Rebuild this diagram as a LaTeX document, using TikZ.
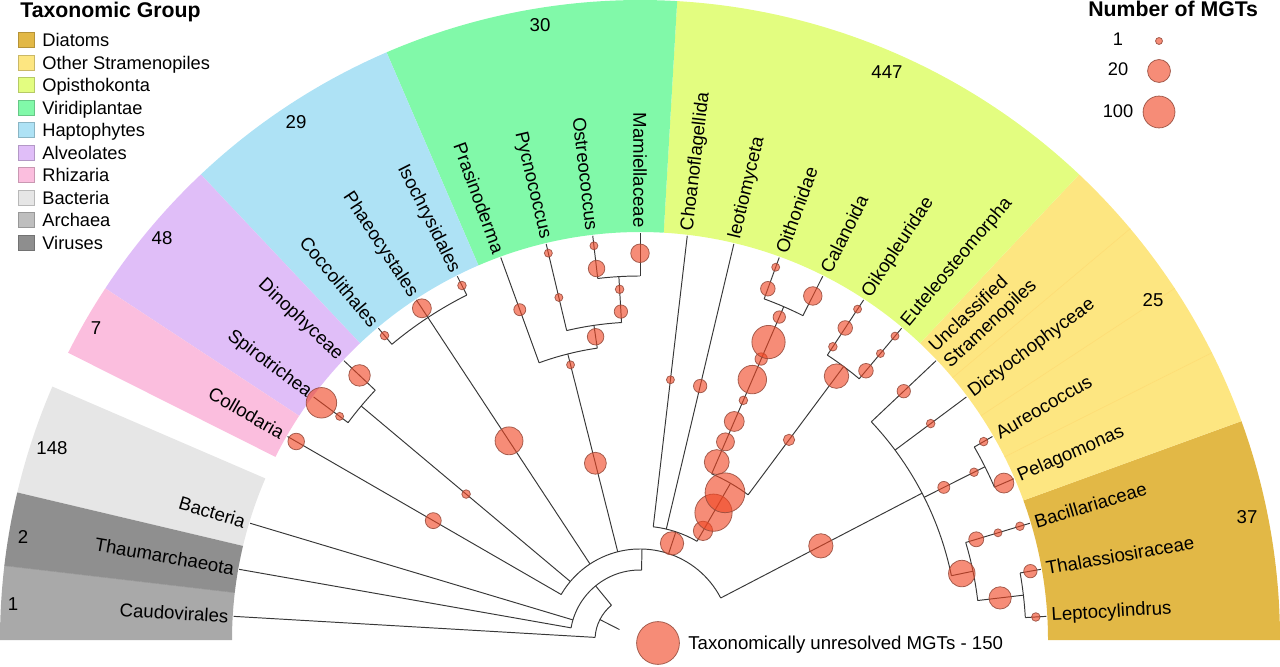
\documentclass[tikz,border=0pt]{standalone}
\usepackage{fontspec}
\setmainfont{Liberation Sans}
\definecolor{cDia}{HTML}{E2B846}
\definecolor{cOth}{HTML}{FDE681}
\definecolor{cOpi}{HTML}{E3FD80}
\definecolor{cVir}{HTML}{81F9A9}
\definecolor{cHap}{HTML}{AEE2F5}
\definecolor{cAlv}{HTML}{E0BEF8}
\definecolor{cRhi}{HTML}{FBBEDE}
\definecolor{cBac}{HTML}{E6E6E6}
\definecolor{cThm}{HTML}{8F8F8F}
\definecolor{cCau}{HTML}{A9A9A9}
\definecolor{cLArc}{HTML}{BEBEBE}
\definecolor{cLVir}{HTML}{8E8E8E}
\definecolor{bubF}{RGB}{240,70,35}
\definecolor{bubE}{RGB}{150,75,60}
\newcommand\lblfont{\fontsize{10.6}{12.4}\selectfont}
\newcommand\legfont{\fontsize{10.4}{12}\selectfont}
\newcommand\ttlfont{\fontsize{12.1}{14}\selectfont\bfseries}
\newcommand\drawband[3]{\fill[#1] (#2:408) arc[start angle=#2, end angle=#3, radius=408] -- (#3:640) arc[start angle=#3, end angle=#2, radius=640] -- cycle;}
\newcommand\rb[3]{\draw[brl] (#1:#2) -- (#1:#3);}
\newcommand\ab[3]{\draw[brl] (#2:#1) arc[start angle=#2, end angle=#3, radius=#1];}
\begin{document}
\begin{tikzpicture}[x=0.02cm, y=0.02cm,
  brl/.style={line width=0.55pt, draw=black!78},
  bub/.style={circle, inner sep=0pt, minimum size=#1*1.1339pt, fill=bubF, fill opacity=0.62, draw=bubE, draw opacity=0.85, line width=0.45pt},
  lblR/.style={anchor=west, inner sep=0pt, rotate=#1, font=\lblfont},
  lblL/.style={anchor=east, inner sep=0pt, rotate=#1-180, font=\lblfont},
  num/.style={font=\lblfont, inner sep=0pt},
  legsq/.style={minimum width=9pt, minimum height=8.5pt, inner sep=0pt, line width=0.4pt},
  legtx/.style={font=\legfont, anchor=base west, inner sep=0pt}
]
\useasboundingbox (0,0) rectangle (1280,666);
\begin{scope}[shift={(640,26)}]
% ---- coloured ranges ----
\drawband{cDia}{0}{20}
\drawband{cOth}{20}{46.67}
\drawband{cOpi}{46.67}{86.67}
\drawband{cVir}{86.67}{113.33}
\drawband{cHap}{113.33}{133.33}
\drawband{cAlv}{133.33}{146.67}
\drawband{cRhi}{146.67}{153.33}
\drawband{cBac}{156.67}{166.67}
\drawband{cThm}{166.67}{173.33}
\drawband{cCau}{173.33}{180}
\foreach \a in {26.67,33.33,40}{\draw[cOth!92!orange, line width=0.4pt] (\a:408) -- (\a:640);}
\draw[cCau!85!black, line width=0.3pt] (173.33:408) -- (173.33:640);
% ---- tree ----
\rb{153.02}{23}{45}
\ab{45}{129.375}{176.67}
\rb{176.67}{45}{407}
\rb{129.375}{45}{70}
\ab{70}{88.75}{170}
\rb{163.33}{70}{407}
\rb{170}{70}{407}
\rb{88.75}{70}{91}
\ab{91}{27.5}{150}
\rb{150}{91}{407}
% Alveolates
\rb{140}{91}{364}
\ab{364}{136.67}{143.33}
\rb{136.67}{364}{407}
\rb{143.33}{364}{407}
% Haptophytes
\rb{123.33}{91}{386}
\ab{386}{116.67}{130}
\rb{116.67}{386}{407}
\rb{123.33}{386}{407}
\rb{130}{386}{407}
% Viridiplantae
\rb{104.17}{91}{295}
\ab{295}{98.33}{110}
\rb{110}{295}{407}
\rb{98.33}{295}{318}
\ab{318}{93.33}{103.33}
\rb{103.33}{318}{407}
\rb{93.33}{318}{364}
\ab{364}{90}{96.67}
\rb{96.67}{364}{407}
\rb{90}{364}{407}
% Opisthokonta
\rb{71.67}{91}{114}
\ab{114}{60}{83.33}
\rb{83.33}{114}{407}
\rb{76.67}{114}{407}
\rb{60}{114}{181}
\ab{181}{53.33}{66.67}
\rb{66.67}{181}{363}
\ab{363}{63.33}{70}
\rb{70}{363}{407}
\rb{63.33}{363}{407}
\rb{53.33}{181}{341}
\ab{341}{50}{56.67}
\rb{56.67}{341}{407}
\rb{50}{341}{407}
% Stramenopiles
\rb{27.5}{91}{318}
\ab{318}{11.67}{43.33}
\rb{43.33}{318}{407}
\rb{36.67}{318}{407}
\rb{26.67}{318}{386}
\ab{386}{23.33}{30}
\rb{30}{386}{407}
\rb{23.33}{386}{407}
\rb{11.67}{318}{340}
\ab{340}{6.67}{16.67}
\rb{16.67}{340}{407}
\rb{6.67}{340}{386}
\ab{386}{3.33}{10}
\rb{10}{386}{407}
\rb{3.33}{386}{407}
% ---- bubbles ----
\node[bub=8] (k01) at (150:238.7) {};
\node[bub=8.3] (k02) at (150:397) {};
\node[bub=4.3] (k03) at (140:227) {};
\node[bub=10.8] (k04) at (136.67:385.6) {};
\node[bub=4] (k05) at (143.33:374.5) {};
\node[bub=15.3] (k06) at (143.33:397.2) {};
\node[bub=14] (k07) at (123.33:238.4) {};
\node[bub=9.5] (k08) at (123.33:397) {};
\node[bub=4.3] (k09) at (130:397.4) {};
\node[bub=4.3] (k10) at (116.67:396.7) {};
\node[bub=11] (k11) at (104.17:182.3) {};
\node[bub=4] (k12) at (104.17:283.8) {};
\node[bub=6] (k13) at (110:351.5) {};
\node[bub=8.3] (k14) at (98.33:306.5) {};
\node[bub=4] (k15) at (103.33:352) {};
\node[bub=4] (k16) at (103.33:397.6) {};
\node[bub=6.7] (k17) at (93.33:329) {};
\node[bub=4.3] (k18) at (93.33:351.3) {};
\node[bub=8.3] (k19) at (96.67:374) {};
\node[bub=4] (k20) at (96.67:396.9) {};
\node[bub=9.3] (k21) at (90:386.7) {};
\node[bub=11.7] (k22) at (71.67:101.8) {};
\node[bub=4] (k23) at (83.33:262) {};
\node[bub=6.7] (k24) at (76.67:261) {};
\node[bub=9.7] (k25) at (60:126) {};
\node[bub=18.7] (k26) at (60:147) {};
\node[bub=20] (k27) at (60:170) {};
\node[bub=12.5] (k28) at (66.67:193.8) {};
\node[bub=9] (k29) at (66.67:215.8) {};
\node[bub=10] (k30) at (66.67:238) {};
\node[bub=4.3] (k31) at (66.67:261) {};
\node[bub=14.3] (k32) at (66.67:283.6) {};
\node[bub=6.2] (k33) at (66.67:306) {};
\node[bub=16.7] (k34) at (66.67:324.5) {};
\node[bub=6.2] (k35) at (66.67:351.7) {};
\node[bub=7.3] (k36) at (70:373.8) {};
\node[bub=4] (k37) at (70:396.7) {};
\node[bub=9.3] (k38) at (63.33:385) {};
\node[bub=5.7] (k39) at (53.33:249.5) {};
\node[bub=12.3] (k40) at (53.33:329) {};
\node[bub=4.3] (k41) at (56.67:351) {};
\node[bub=7.3] (k42) at (56.67:373.5) {};
\node[bub=4] (k43) at (56.67:396) {};
\node[bub=7.3] (k44) at (50:351.5) {};
\node[bub=4] (k45) at (50:374) {};
\node[bub=4] (k46) at (50:396.7) {};
\node[bub=6.7] (k47) at (43.33:362.6) {};
\node[bub=4.3] (k48) at (36.67:362.4) {};
\node[bub=12.2] (k49) at (27.5:203.9) {};
\node[bub=6] (k50) at (26.67:340) {};
\node[bub=4.3] (k51) at (26.67:373.8) {};
\node[bub=4.3] (k52) at (30:396.8) {};
\node[bub=10] (k53) at (23.33:396.3) {};
\node[bub=13.3] (k54) at (11.67:328.6) {};
\node[bub=7.5] (k55) at (16.67:351) {};
\node[bub=4] (k56) at (16.67:373.7) {};
\node[bub=4.3] (k57) at (16.67:396.6) {};
\node[bub=11.2] (k58) at (6.67:362.6) {};
\node[bub=6.7] (k59) at (10:396.4) {};
\node[bub=4.3] (k60) at (3.33:396.5) {};
% ---- leaf labels ----
\node[lblR=3.33] (tLep) at (3.33:412) {Leptocylindrus};
\node[lblR=10] (tTha) at (10:412) {Thalassiosiraceae};
\node[lblR=16.67] (tBac) at (16.67:412) {Bacillariaceae};
\node[lblR=23.33] (tPel) at (23.33:412) {Pelagomonas};
\node[lblR=30] (tAur) at (30:412) {Aureococcus};
\node[lblR=36.67] (tDic) at (36.67:412) {Dictyochophyceae};
\node[lblR=43.33, align=left] (tUnc) at (43.33:412) {Unclassified\\Stramenopiles};
\node[lblR=50] (tEut) at (50:412) {Euteleosteomorpha};
\node[lblR=56.67] (tOik) at (56.67:412) {Oikopleuridae};
\node[lblR=63.33] (tCal) at (63.33:412) {Calanoida};
\node[lblR=70] (tOit) at (70:412) {Oithonidae};
\node[lblR=76.67] (tLeo) at (76.67:412) {leotiomyceta};
\node[lblR=83.33] (tCho) at (83.33:412) {Choanoflagellida};
\node[lblL=90] (tMam) at (90:412) {Mamiellaceae};
\node[lblL=96.67] (tOst) at (96.67:412) {Ostreococcus};
\node[lblL=103.33] (tPyc) at (103.33:412) {Pycnococcus};
\node[lblL=110] (tPra) at (110:412) {Prasinoderma};
\node[lblL=116.67] (tIso) at (116.67:412) {Isochrysidales};
\node[lblL=123.33] (tPha) at (123.33:412) {Phaeocystales};
\node[lblL=130] (tCoc) at (130:412) {Coccolithales};
\node[lblL=136.67] (tDin) at (136.67:412) {Dinophyceae};
\node[lblL=143.33] (tSpi) at (143.33:412) {Spirotrichea};
\node[lblL=150] (tCol) at (150:412) {Collodaria};
\node[lblL=163.33] (tBct) at (163.33:412) {Bacteria};
\node[lblL=170] (tThm) at (170:412) {Thaumarchaeota};
\node[lblL=176.67] (tCau) at (176.67:412) {Caudovirales};
\end{scope}
% ---- range counts ----
\node[num] (n148) at (52,218) {148};
\node[num] (n2) at (23,129) {2};
\node[num] (n1) at (13,62) {1};
\node[num] (n7) at (96,338) {7};
\node[num] (n48) at (162,428) {48};
\node[num] (n29) at (296,544) {29};
\node[num] (n30) at (540,641) {30};
\node[num] (n447) at (887,594) {447};
\node[num] (n25) at (1153,366) {25};
\node[num] (n37) at (1247,149) {37};
% ---- unresolved ----
\node[bub=21.5] (kU) at (658,23) {};
\node[font=\lblfont, anchor=west, inner sep=0pt] (tU) at (688,21) {Taxonomically unresolved MGTs - 150};
% ---- legend: taxonomic group ----
\node[font=\ttlfont, anchor=base west, inner sep=0pt] (tTG) at (20,648.5) {Taxonomic Group};
\foreach \c/\t/\y [count=\i] in {cDia/Diatoms/40, cOth/Other Stramenopiles/62.5, cOpi/Opisthokonta/85, cVir/Viridiplantae/107.5, cHap/Haptophytes/130, cAlv/Alveolates/152.5, cRhi/Rhizaria/175, cBac/Bacteria/197.5, cLArc/Archaea/220, cLVir/Viruses/242.5}{
  \node[legsq, fill=\c, draw=\c!80!black] (sq\i) at (26,666-\y) {};
  \node[legtx] (lt\i) at (42,666-\y-6.8) {\t};
}
% ---- legend: number of MGTs ----
\node[font=\ttlfont, anchor=base west, inner sep=0pt] (tNM) at (1088,649) {Number of MGTs};
\node[font=\legfont, anchor=base, inner sep=0pt] (m1) at (1118,620) {1};
\node[font=\legfont, anchor=base, inner sep=0pt] (m20) at (1118,590) {20};
\node[font=\legfont, anchor=base, inner sep=0pt] (m100) at (1118,548) {100};
\node[bub=3.5] (g1) at (1159,625) {};
\node[bub=11.5] (g20) at (1159,595) {};
\node[bub=16] (g100) at (1159,554) {};
\end{tikzpicture}
\end{document}
